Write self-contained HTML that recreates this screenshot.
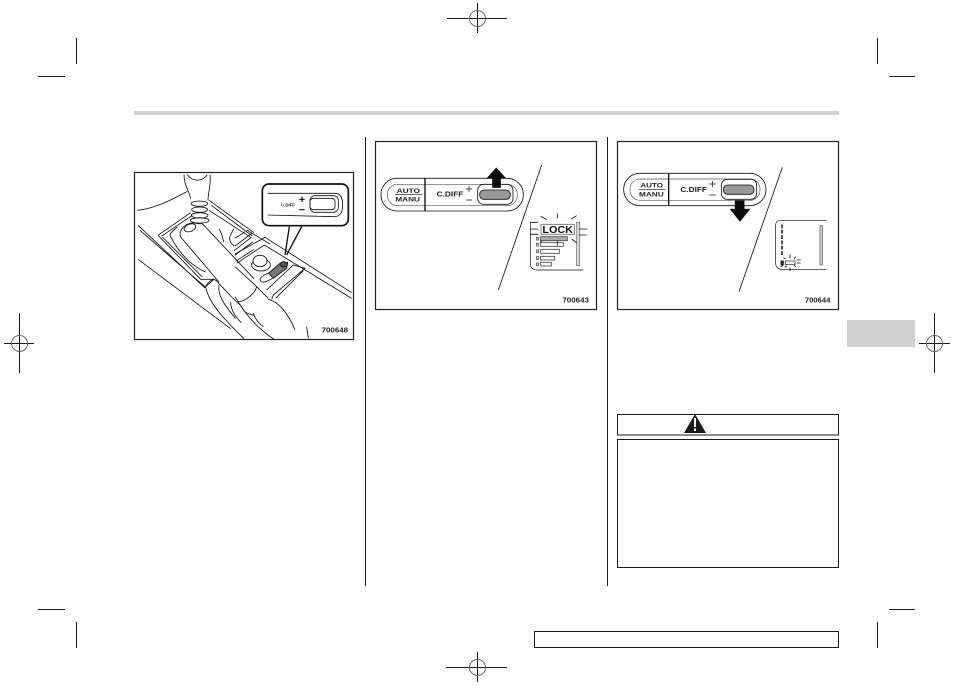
<!DOCTYPE html>
<html><head><meta charset="utf-8"><style>
html,body{margin:0;padding:0;background:#fff;width:954px;height:686px;overflow:hidden}
svg{display:block}
text{font-family:"Liberation Sans",sans-serif}
</style></head><body>
<svg width="954" height="686" viewBox="0 0 954 686" xmlns="http://www.w3.org/2000/svg">
<defs><filter id="b" x="-5%" y="-5%" width="110%" height="110%"><feGaussianBlur stdDeviation="0.3"/></filter></defs>
<rect width="954" height="686" fill="#fff"/>
<!-- page furniture -->
<rect x="134" y="111" width="705" height="4" fill="#d0d0d0"/>
<rect x="847" y="320" width="68" height="27" fill="#d0d0d0"/>
<g stroke="#1a1a1a" stroke-width="1" fill="none">
<path d="M76.500 38V64M38 76.500H65M877.500 38V64M889 76.500H915M38 609.500H65M76.500 622V648M877.500 622V648M889 609.500H915"/>
<path d="M477.500 3V33M447 18.500H507M19.500 313V373M4 343.500H34M934.500 313V373M919 343.500H950M477.500 652V682M446 667.500H507"/>
<path d="M365.500 137V586M607.500 137V586"/>
<rect x="534.500" y="631.500" width="304" height="16"/>
<rect x="617.500" y="414.500" width="221" height="20.500"/>
<rect x="617.500" y="439.500" width="221" height="128"/>
</g>
<g stroke="#666" stroke-width="1" fill="none">
<circle cx="477.500" cy="18.500" r="8"/><circle cx="19.500" cy="343.500" r="8"/><circle cx="934.500" cy="343.500" r="8"/><circle cx="477.500" cy="667.500" r="8"/>
</g>
<path d="M684 433L695 414L706 433Z" fill="#1a1a1a"/>
<rect x="694" y="418" width="2" height="9" fill="#fff"/><rect x="694" y="428.500" width="2" height="2.500" fill="#fff"/>

<!-- panel 1 -->
<rect x="134.500" y="172.500" width="219" height="167" fill="#fff" stroke="#222" stroke-width="1.200"/>
<g filter="url(#b)">
<g transform="translate(134,172) scale(.33333)" fill="none" stroke="#111" stroke-width="2.500">
<path d="M150 8C150 40 165 55 170 80M228 8C232 40 222 60 222 85M160 8C175 30 205 30 220 8"/>
<ellipse cx="196" cy="95" rx="25" ry="8"/><ellipse cx="197" cy="113" rx="24" ry="8"/><ellipse cx="197" cy="130" rx="25" ry="8"/><ellipse cx="197" cy="145" rx="28" ry="8"/>
<path d="M10 115C60 110 110 85 160 58"/>
<path d="M72 190L170 122M82 193L175 130M72 190L200 322L240 322M85 195L205 315"/>
<path d="M225 85L360 182M232 100L355 192M225 115L350 196M352 196L300 236M356 210L302 250M360 232L305 268"/>
<path d="M12 160L212 347L240 322M18 175L216 347M12 262L290 470"/>
<path d="M140 195L255 330M205 155L360 320M140 195C130 170 165 145 190 155L205 155"/>
<path d="M150 170C155 155 185 150 185 163C185 178 152 188 150 170Z"/>
<path d="M108 190C120 215 135 240 165 268M130 165C112 180 108 185 108 190M165 268C180 280 200 295 215 300"/>
<path d="M255 170C270 195 265 205 270 210M300 170C285 195 280 205 300 222"/>
<path d="M215 342C235 315 245 320 255 335C280 360 300 385 320 400C330 420 335 425 360 430"/>
<path d="M215 345C225 400 290 460 330 500M255 340C250 370 272 400 305 440M290 390C290 410 300 430 322 452"/>
</g>
<g transform="translate(235,230) scale(.33333)" fill="none" stroke="#111" stroke-width="2.500">
<path d="M0 72L90 22L350 188M5 100L88 45L350 205M35 0L105 42"/>
<path d="M0 25L30 5M0 48L50 10"/>
<path d="M0 110L65 170L100 205M95 180L175 105L210 115L115 195L110 208M205 122L122 205M65 170C60 190 30 215 10 215"/>
<path d="M100 208C130 215 160 250 180 300M0 200C30 250 60 290 120 330M215 290L220 325M55 250C60 265 70 280 85 290"/>
<ellipse cx="78" cy="105" rx="28" ry="18"/>
<ellipse cx="75" cy="93" rx="21" ry="17" fill="#fff"/>
<path d="M75 150C80 162 95 155 112 145M75 150C75 142 85 135 100 130"/>
<path d="M100 130L135 100L158 97L155 115L115 145Z" fill="#777"/>
<ellipse cx="146" cy="103" rx="11" ry="8" fill="#555"/>
</g>
<g transform="translate(130,165) scale(.33333)" fill="none" stroke="#111" stroke-width="2.500">
<path d="M478 185L465 270M515 185L470 270" stroke-width="4"/>
<rect x="397" y="57" width="258" height="125" rx="20" stroke-width="5" fill="#fff"/>
<path d="M413 85H615C635 85 638 105 638 120C638 140 630 155 615 155L413 150"/>
<rect x="540" y="92" width="85" height="50" rx="14"/>
<rect x="540" y="100" width="75" height="34" rx="10"/>
<path d="M508 103H524M516 95V111M508 134H524" stroke-width="3.500"/>
<text x="453" y="125" font-size="13" font-weight="bold" fill="#222" stroke="none">C.DIFF</text>
<text x="575" y="503" font-size="23" font-weight="bold" fill="#222" stroke="none" textLength="79" lengthAdjust="spacingAndGlyphs">700648</text>
</g>
</g>

<!-- panel 2 -->
<rect x="375.500" y="141.500" width="221" height="168" fill="#fff" stroke="#222" stroke-width="1.200"/>
<g filter="url(#b)">
<g transform="translate(370,135) scale(.33333)" fill="none" stroke="#111" stroke-width="2.500">
<rect x="33" y="130" width="427" height="98" rx="48"/>
<rect x="52" y="148" width="390" height="64" rx="30" stroke="#555" stroke-width="2"/>
<path d="M165 130V228" stroke-width="4"/>
<rect x="323" y="148" width="106" height="60" rx="18"/>
<rect x="329" y="165" width="92" height="28" rx="13" fill="#999"/>
<path d="M350 130L379 98L408 130H392V158H367V130Z" fill="#111" stroke="#111" stroke-width="1"/>
<path d="M75 179H157" stroke-width="2"/>
<text x="80" y="174" font-size="20" font-weight="bold" fill="#222" stroke="none" textLength="70" lengthAdjust="spacingAndGlyphs">AUTO</text>
<text x="76" y="199" font-size="20" font-weight="bold" fill="#222" stroke="none" textLength="74" lengthAdjust="spacingAndGlyphs">MANU</text>
<text x="200" y="185" font-size="21" font-weight="bold" fill="#222" stroke="none" textLength="80" lengthAdjust="spacingAndGlyphs">C.DIFF</text>
<path d="M288 162H306M297 153V171M288 195H306" stroke-width="2"/>
<path d="M515 90L385 465"/>
<path d="M481 262V388C481 398 490 405 500 405H640" stroke-width="2"/>
<rect x="513" y="268" width="100" height="30" stroke="#666" fill="#fff"/>
<text x="517" y="294" font-size="29" font-weight="bold" fill="#111" stroke="none" textLength="92" lengthAdjust="spacingAndGlyphs">LOCK</text>
<rect x="620" y="262" width="9" height="130" stroke="#777" fill="#ddd"/>
<path d="M512 244L530 254M562 235V250M620 242L604 252M481 262H505M481 282H505M481 298H505M627 282H652M627 300H650M510 322L528 310M562 315V332M620 323L605 312"/>
<g stroke="#444">
<rect x="512" y="305" width="80" height="12" fill="#aaa"/><rect x="512" y="323" width="68" height="11"/><rect x="512" y="343" width="56" height="12"/><rect x="512" y="364" width="42" height="11"/><rect x="512" y="382" width="32" height="11"/>
<rect x="500" y="307" width="5" height="8"/><rect x="500" y="325" width="5" height="8"/><rect x="500" y="345" width="5" height="8"/><rect x="500" y="365" width="5" height="8"/><rect x="500" y="384" width="5" height="8"/>
</g>
<text x="577" y="502" font-size="23" font-weight="bold" fill="#222" stroke="none" textLength="80" lengthAdjust="spacingAndGlyphs">700643</text>
</g>
</g>

<!-- panel 3 -->
<rect x="617.500" y="141.500" width="221" height="168" fill="#fff" stroke="#222" stroke-width="1.200"/>
<g filter="url(#b)">
<g transform="translate(610,135) scale(.33333)" fill="none" stroke="#111" stroke-width="2.500">
<rect x="41" y="115" width="427" height="97" rx="48"/>
<rect x="60" y="132" width="390" height="64" rx="30" stroke="#555" stroke-width="2"/>
<path d="M176 115V212" stroke-width="4"/>
<rect x="334" y="133" width="106" height="60" rx="18"/>
<rect x="340" y="150" width="92" height="28" rx="13" fill="#999"/>
<path d="M375 197H403V222H420L390 260L360 222H375Z" fill="#111" stroke="#111" stroke-width="1"/>
<path d="M86 164H166" stroke-width="2"/>
<text x="91" y="158" font-size="20" font-weight="bold" fill="#222" stroke="none" textLength="68" lengthAdjust="spacingAndGlyphs">AUTO</text>
<text x="87" y="184" font-size="20" font-weight="bold" fill="#222" stroke="none" textLength="74" lengthAdjust="spacingAndGlyphs">MANU</text>
<text x="211" y="171" font-size="21" font-weight="bold" fill="#222" stroke="none" textLength="80" lengthAdjust="spacingAndGlyphs">C.DIFF</text>
<path d="M298 147H317M308 138V156M298 180H317" stroke-width="2"/>
<path d="M517 97L387 470"/>
<path d="M650 256H510C502 256 497 262 497 270V385C497 396 505 403 515 403H650" stroke-width="2"/>
<rect x="630" y="272" width="7" height="118" stroke="#666" fill="#ddd"/>
<path d="M516 268V360" stroke="#333" stroke-width="5" stroke-dasharray="12 4"/>
<rect x="526" y="378" width="29" height="11" stroke="#444"/>
<rect x="513" y="378" width="7" height="12" fill="#333"/>
<path d="M520 368L526 372M540 358V370M558 365L552 372M560 375H572M560 384H572M558 396L552 390M540 398V408M525 398L530 392M512 396L518 392"/>
<text x="585" y="503" font-size="23" font-weight="bold" fill="#222" stroke="none" textLength="76" lengthAdjust="spacingAndGlyphs">700644</text>
</g>
</g>
</svg>
</body></html>
